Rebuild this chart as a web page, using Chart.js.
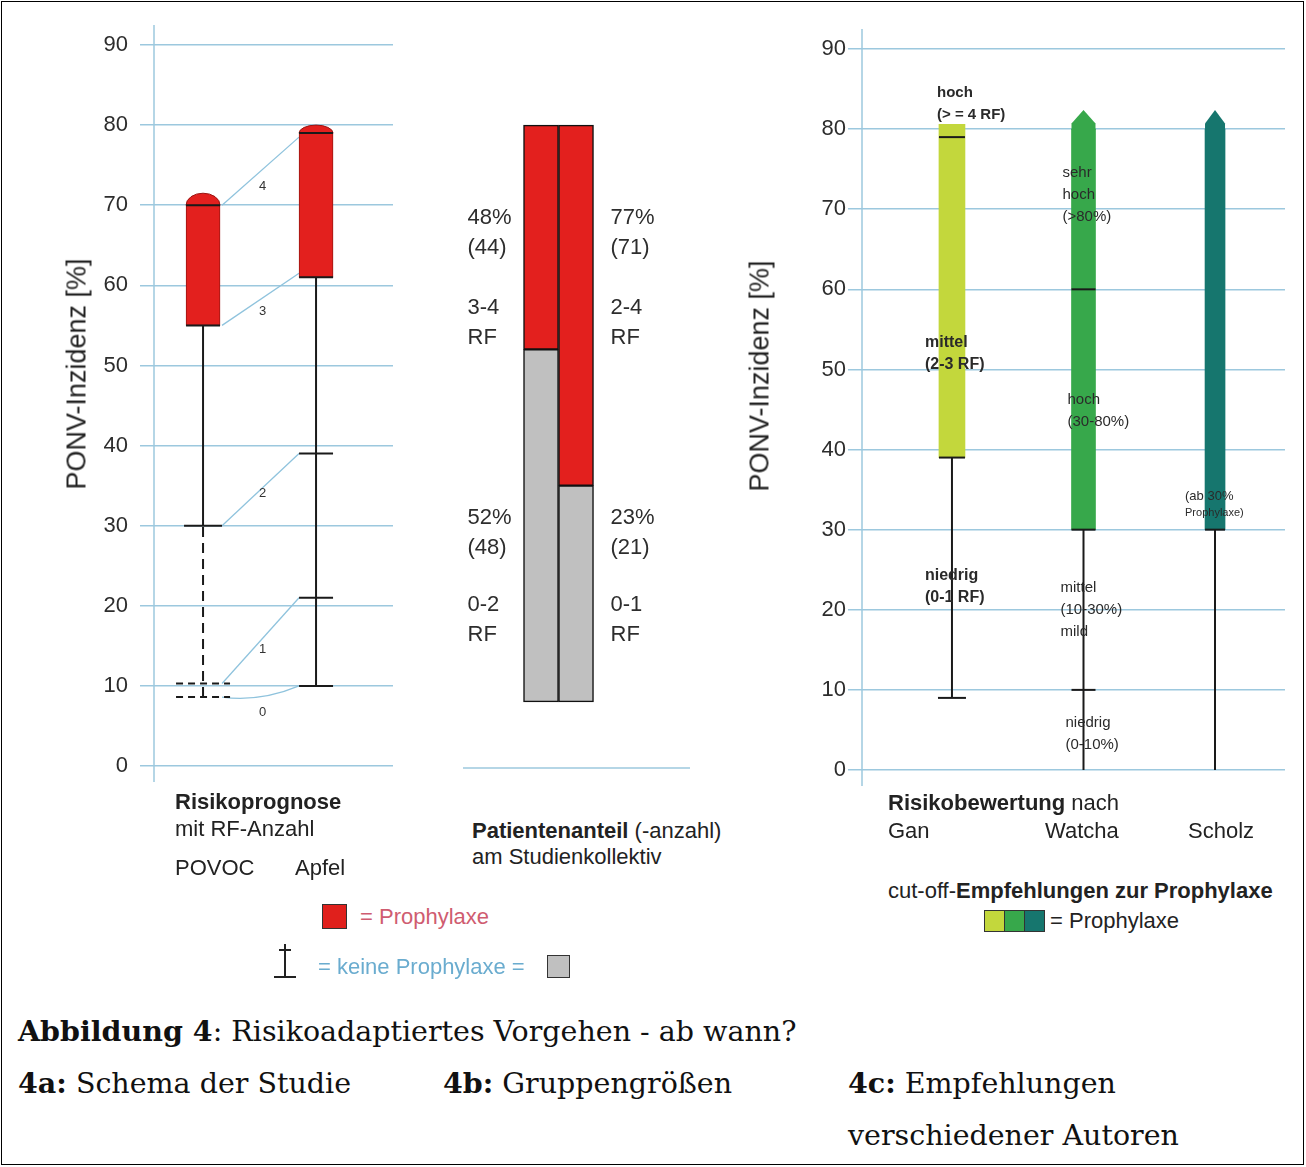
<!DOCTYPE html>
<html lang="de">
<head>
<meta charset="utf-8">
<title>Abbildung 4 – Risikoadaptiertes Vorgehen</title>
<script src="https://cdn.jsdelivr.net/npm/chart.js@4.4.1/dist/chart.umd.min.js"></script>
<style>
  html, body { margin: 0; padding: 0; background: #fff; }
  body { width: 1306px; height: 1167px; position: relative; overflow: hidden;
         font-family: "Liberation Sans", Arial, sans-serif; color: #222; }
  .frame { position: absolute; left: 1px; top: 1px; width: 1303px; height: 1164px;
           border: 1.5px solid #000; box-sizing: border-box; }
  canvas { position: absolute; top: 0; }
  .t { position: absolute; white-space: nowrap; font-size: 22px; line-height: 26px; color: #222; }
  .ytitle { position: absolute; white-space: nowrap; font-size: 27px; color: #222;
            transform: translate(-50%, -50%) rotate(-90deg); }
  .cap { position: absolute; white-space: nowrap; font-family: "DejaVu Serif", serif;
         font-size: 28.5px; line-height: 34px; color: #111; }
  .sw { position: absolute; box-sizing: border-box; border: 1.5px solid #333; }
  .bar { position: absolute; background: #222; }
</style>
</head>
<body>
<div class="frame"></div>

<canvas id="c4a" width="420" height="800" style="left:0"></canvas>
<canvas id="c4b" width="300" height="800" style="left:420px"></canvas>
<canvas id="c4c" width="586" height="800" style="left:720px"></canvas>

<div class="ytitle" style="left:77px; top:374px">PONV-Inzidenz [%]</div>
<div class="ytitle" style="left:760px; top:376px">PONV-Inzidenz [%]</div>

<!-- 4a / 4b axis texts -->
<div class="t" style="left:175px; top:789px"><b>Risikoprognose</b></div>
<div class="t" style="left:175px; top:816px">mit RF-Anzahl</div>
<div class="t" style="left:175px; top:855px">POVOC</div>
<div class="t" style="left:295px; top:855px">Apfel</div>
<div class="t" style="left:472px; top:818px"><b>Patientenanteil</b> (-anzahl)</div>
<div class="t" style="left:472px; top:844px">am Studienkollektiv</div>

<!-- legend left -->
<div class="sw" style="left:322px; top:904px; width:25px; height:25px; background:#e0201c"></div>
<div class="t" style="left:360px; top:904px; color:#cf5c70">= Prophylaxe</div>
<div class="bar" style="left:284px; top:944px; width:2px; height:33px"></div>
<div class="bar" style="left:279px; top:949px; width:12px; height:2px"></div>
<div class="bar" style="left:274px; top:976px; width:22px; height:2px"></div>
<div class="t" style="left:318px; top:954px; color:#6aaccf">= keine Prophylaxe =</div>
<div class="sw" style="left:547px; top:955px; width:23px; height:23px; background:#c0c0c0"></div>

<!-- 4c axis texts -->
<div class="t" style="left:888px; top:790px"><b>Risikobewertung</b> nach</div>
<div class="t" style="left:888px; top:818px">Gan</div>
<div class="t" style="left:1045px; top:818px">Watcha</div>
<div class="t" style="left:1188px; top:818px">Scholz</div>
<div class="t" style="left:888px; top:878px">cut-off-<b>Empfehlungen zur Prophylaxe</b></div>
<div class="sw" style="left:984px; top:910px; width:21px; height:22px; background:#c3d73c"></div>
<div class="sw" style="left:1004px; top:910px; width:21px; height:22px; background:#37a84b"></div>
<div class="sw" style="left:1024px; top:910px; width:21px; height:22px; background:#16766e"></div>
<div class="t" style="left:1050px; top:908px">= Prophylaxe</div>

<!-- caption -->
<div class="cap" style="left:18px; top:1014px"><b>Abbildung 4</b>: Risikoadaptiertes Vorgehen - ab wann?</div>
<div class="cap" style="left:18px; top:1066px"><b>4a:</b> Schema der Studie</div>
<div class="cap" style="left:443px; top:1066px"><b>4b:</b> Gruppengrößen</div>
<div class="cap" style="left:848px; top:1066px"><b>4c:</b> Empfehlungen</div>
<div class="cap" style="left:848px; top:1119px">verschiedener Autoren</div>

<script>
// ---- data ----
const yMin = 0, yMax = 90, yStep = 10;

// 4a: Risikoprognose
const schemes = ['POVOC', 'Apfel'];
const prophRange = [[55, 70], [61, 79]];
const prophDome = [71.5, 80];
const whiskerRange = [[30, 55], [10, 61]];
const whiskerCaps = [[30], [10, 21, 39]];
const dashedRange = [[8.6, 30], null];
const dashedCaps = [[10.3, 8.6], []];
const rfCount = ['4', '3', '2', '1', '0'];
const rfFrom = [70, 55, 30, 10.3, 8.6];
const rfTo = [78.5, 61.5, 39, 21, 10];

// 4b: Patientenanteil
const groupBase = 8;
const groupTop = 80;
const groupSplit = [52, 35];
const shareNone = ['52%', '23%'];
const countNone = ['(48)', '(21)'];
const rfNone = ['0-2', '0-1'];
const shareProph = ['48%', '77%'];
const countProph = ['(44)', '(71)'];
const rfProph = ['3-4', '2-4'];

// 4c: Empfehlungen
const authors = ['Gan', 'Watcha', 'Scholz'];
const cutoff = [39, 30, 30];
const barTop = [80.6, 80, 80];
const arrowTip = [null, 82.4, 82.4];
const levelMarks = [[79], [60], []];
const whiskerLow = [9, 0, 0];
const whiskerMarks = [[9], [10], []];
const ganNotes = [['hoch', '(> = 4 RF)'], ['mittel', '(2-3 RF)'], ['niedrig', '(0-1 RF)']];
const watchaNotes = [['sehr', 'hoch', '(>80%)'], ['hoch', '(30-80%)'], ['mittel', '(10-30%)', 'mild'], ['niedrig', '(0-10%)']];
const scholzNotes = [['(ab 30%', 'Prophylaxe)']];

// ---- shared styling ----
Chart.defaults.font.family = '"Liberation Sans", Arial, sans-serif';
const gridBlue = '#9cc8de';
const red = '#e3201e';

function yAxis(width, pad) {
  return {
    min: yMin, max: yMax,
    ticks: { stepSize: yStep, color: '#2d2d2d', font: { size: 22 }, padding: pad },
    grid: { color: gridBlue, lineWidth: 1.5, tickLength: 14, tickColor: gridBlue },
    border: { display: false },
    afterFit(scale) { scale.width = width; }
  };
}

const axisLine = {
  id: 'axisLine',
  beforeDatasetsDraw(chart) {
    const { ctx, chartArea } = chart;
    ctx.save();
    ctx.strokeStyle = gridBlue;
    ctx.lineWidth = 1.5;
    ctx.beginPath();
    ctx.moveTo(chartArea.left, chartArea.top - 20);
    ctx.lineTo(chartArea.left, chartArea.bottom + 16);
    ctx.stroke();
    ctx.restore();
  }
};

// ---- 4a ----
const rfLabelAt = [72.3, 56.8, 34, 14.5, 6.7];

const rfSteps = {
  id: 'rfSteps',
  beforeDatasetsDraw(chart) {
    const { ctx, scales: { x, y } } = chart;
    const x0 = x.getPixelForValue(0) + 19, x1 = x.getPixelForValue(1) - 17;
    ctx.save();
    ctx.strokeStyle = '#8fc3dd';
    ctx.lineWidth = 1.3;
    ctx.font = '13px "Liberation Sans"';
    ctx.fillStyle = '#333';
    ctx.textAlign = 'center';
    ctx.textBaseline = 'middle';
    rfCount.forEach((n, i) => {
      const ya = y.getPixelForValue(rfFrom[i]), yb = y.getPixelForValue(rfTo[i]);
      ctx.beginPath();
      ctx.moveTo(x0, ya);
      if (i === rfCount.length - 1) ctx.quadraticCurveTo((x0 + x1) / 2, ya + 5, x1, yb);
      else ctx.lineTo(x1, yb);
      ctx.stroke();
      ctx.fillText(n, (x0 + x1) / 2 + 2, y.getPixelForValue(rfLabelAt[i]));
    });
    // rounded tops of the prophylaxis boxes
    prophRange.forEach((r, i) => {
      const cx = x.getPixelForValue(i);
      const yt = y.getPixelForValue(r[1]), yd = y.getPixelForValue(prophDome[i]);
      ctx.beginPath();
      ctx.ellipse(cx, yt, 17, yt - yd, 0, Math.PI, 2 * Math.PI);
      ctx.closePath();
      ctx.fillStyle = red;
      ctx.fill();
      ctx.strokeStyle = '#9a1512';
      ctx.lineWidth = 1;
      ctx.stroke();
    });
    ctx.restore();
  },
  afterDatasetsDraw(chart) {
    const { ctx, scales: { x, y } } = chart;
    ctx.save();
    ctx.strokeStyle = '#1a1a1a';
    ctx.lineWidth = 2;
    ctx.setLineDash([7, 5]);
    dashedCaps.forEach((caps, i) => {
      const cx = x.getPixelForValue(i);
      caps.forEach(v => {
        const yy = y.getPixelForValue(v);
        ctx.beginPath();
        ctx.moveTo(cx - 27, yy);
        ctx.lineTo(cx + 27, yy);
        ctx.stroke();
      });
    });
    ctx.restore();
  }
};

new Chart(document.getElementById('c4a'), {
  type: 'bar',
  data: {
    datasets: [
      {
        type: 'bar', label: 'Prophylaxe',
        data: schemes.map((s, i) => ({ x: i, y: prophRange[i] })),
        backgroundColor: red, borderColor: '#9a1512', borderWidth: 1,
        borderSkipped: false, barThickness: 34, grouped: false, order: 3
      },
      ...schemes.map((s, i) => ({
        type: 'line', label: s + ' keine Prophylaxe',
        data: whiskerRange[i].map(v => ({ x: i, y: v })),
        borderColor: '#1a1a1a', borderWidth: 2, pointRadius: 0, order: 2
      })),
      ...schemes.filter((s, i) => dashedRange[i]).map((s, i) => ({
        type: 'line', label: s + ' gestrichelt',
        data: dashedRange[i].map(v => ({ x: i, y: v })),
        borderColor: '#1a1a1a', borderWidth: 2, borderDash: [10, 6], pointRadius: 0, order: 2
      })),
      {
        type: 'scatter', label: 'Grenzen',
        data: schemes.flatMap((s, i) => [
          ...whiskerCaps[i].map(v => ({ x: i, y: v, r: i === 0 ? 19 : 17 })),
          ...prophRange[i].map(v => ({ x: i, y: v, r: 17 }))
        ]),
        pointStyle: 'line',
        pointRadius: c => c.raw.r,
        pointBorderColor: '#1a1a1a', pointBorderWidth: 2, order: 1
      }
    ]
  },
  options: {
    responsive: false, animation: false, events: [],
    layout: { padding: { top: 45, bottom: 34, left: 0, right: 27 } },
    plugins: { legend: { display: false }, tooltip: { enabled: false } },
    scales: {
      x: { type: 'linear', display: false, offset: false, min: -0.434, max: 1.681 },
      y: yAxis(154, 12)
    }
  },
  plugins: [axisLine, rfSteps]
});

// ---- 4b ----
const groupLabels = {
  id: 'groupLabels',
  afterDatasetsDraw(chart) {
    const { ctx, chartArea, scales: { x, y } } = chart;
    ctx.save();
    ctx.strokeStyle = gridBlue;
    ctx.lineWidth = 1.5;
    ctx.beginPath();
    ctx.moveTo(chartArea.left, y.getPixelForValue(0) + 2);
    ctx.lineTo(chartArea.right, y.getPixelForValue(0) + 2);
    ctx.stroke();
    ctx.font = '22px "Liberation Sans"';
    ctx.fillStyle = '#2d2d2d';
    ctx.textBaseline = 'middle';
    ctx.textAlign = 'left';
    const sides = [x.getPixelForValue(0) - 17.5 - 56, x.getPixelForValue(1) + 17.5 + 17];
    const lh = 30;
    sides.forEach((lx, i) => {
      [[shareProph[i], countProph[i], 68.4], [rfProph[i], 'RF', 57.2],
       [shareNone[i], countNone[i], 31], [rfNone[i], 'RF', 20.1]].forEach(([a, b, at]) => {
        const yy = y.getPixelForValue(at);
        ctx.fillText(a, lx, yy);
        ctx.fillText(b, lx, yy + lh);
      });
    });
    ctx.restore();
  }
};

new Chart(document.getElementById('c4b'), {
  type: 'bar',
  data: {
    datasets: [
      {
        label: 'keine Prophylaxe',
        data: groupSplit.map((v, i) => ({ x: i, y: [groupBase, v] })),
        backgroundColor: '#c0c0c0', borderColor: '#111', borderWidth: 1.5,
        borderSkipped: false, barThickness: 35, grouped: false
      },
      {
        label: 'Prophylaxe',
        data: groupSplit.map((v, i) => ({ x: i, y: [v, groupTop] })),
        backgroundColor: red, borderColor: '#111', borderWidth: 1.5,
        borderSkipped: false, barThickness: 35, grouped: false
      }
    ]
  },
  options: {
    responsive: false, animation: false, events: [],
    layout: { padding: { top: 45, bottom: 34, left: 43, right: 30 } },
    plugins: { legend: { display: false }, tooltip: { enabled: false } },
    scales: {
      x: { type: 'linear', display: false, offset: false, min: -2.229, max: 4.257 },
      y: { display: false, min: yMin, max: yMax }
    }
  },
  plugins: [groupLabels]
});

// ---- 4c ----
const authorColors = ['#c3d73c', '#37a84b', '#16766e'];
const authorWidth = [26, 24, 20];
const notePlacement = [
  { notes: ganNotes, at: [84.5, 53.3, 24.3], dx: [-15, -27, -27], bold: true, size: [15, 16, 16] },
  { notes: watchaNotes, at: [74.5, 46.2, 22.7, 5.9], dx: [-21, -16, -23, -18], bold: false, size: [15, 15, 15, 15] },
  { notes: scholzNotes, at: [34.1], dx: [-30], bold: false, size: [13] }
];

const arrowsAndNotes = {
  id: 'arrowsAndNotes',
  afterDatasetsDraw(chart) {
    const { ctx, scales: { x, y } } = chart;
    ctx.save();
    arrowTip.forEach((tip, i) => {
      if (tip == null) return;
      const cx = x.getPixelForValue(i), hw = authorWidth[i] / 2;
      const yb = y.getPixelForValue(barTop[i]) + 1;
      const ys = y.getPixelForValue(barTop[i] + 0.7);
      const yt = y.getPixelForValue(tip);
      ctx.beginPath();
      ctx.moveTo(cx - hw, yb);
      ctx.lineTo(cx - hw, ys);
      ctx.lineTo(cx, yt);
      ctx.lineTo(cx + hw, ys);
      ctx.lineTo(cx + hw, yb);
      ctx.closePath();
      ctx.fillStyle = authorColors[i];
      ctx.fill();
    });
    ctx.fillStyle = '#2a2a2a';
    ctx.textAlign = 'left';
    ctx.textBaseline = 'middle';
    notePlacement.forEach((p, i) => {
      const cx = x.getPixelForValue(i);
      p.notes.forEach((lines, k) => {
        const y0 = y.getPixelForValue(p.at[k]);
        lines.forEach((t, j) => {
          const sz = i === 2 && j === 1 ? 11 : p.size[k];
          ctx.font = (p.bold ? 'bold ' : '') + sz + 'px "Liberation Sans"';
          ctx.fillText(t, cx + p.dx[k], y0 + j * (i === 2 ? 16 : 22));
        });
      });
    });
    ctx.restore();
  }
};

new Chart(document.getElementById('c4c'), {
  type: 'bar',
  data: {
    datasets: [
      ...authors.map((a, i) => ({
        type: 'bar', label: a,
        data: [{ x: i, y: [cutoff[i], barTop[i]] }],
        backgroundColor: authorColors[i], borderWidth: 0,
        barThickness: authorWidth[i], grouped: false, order: 3
      })),
      ...authors.map((a, i) => ({
        type: 'line', label: a + ' keine Prophylaxe',
        data: [whiskerLow[i], cutoff[i]].map(v => ({ x: i, y: v })),
        borderColor: '#1a1a1a', borderWidth: 2, pointRadius: 0, order: 2
      })),
      {
        type: 'scatter', label: 'Grenzen',
        data: authors.flatMap((a, i) => [
          { x: i, y: cutoff[i], r: authorWidth[i] / 2 },
          ...levelMarks[i].map(v => ({ x: i, y: v, r: authorWidth[i] / 2 })),
          ...whiskerMarks[i].map(v => ({ x: i, y: v, r: i === 0 ? 14 : 12 }))
        ]),
        pointStyle: 'line',
        pointRadius: c => c.raw.r,
        pointBorderColor: '#1a1a1a', pointBorderWidth: 2, order: 1
      }
    ]
  },
  options: {
    responsive: false, animation: false, events: [],
    layout: { padding: { top: 49, bottom: 30, left: 0, right: 21 } },
    plugins: { legend: { display: false }, tooltip: { enabled: false } },
    scales: {
      x: { type: 'linear', display: false, offset: false, min: -0.684, max: 2.532 },
      y: yAxis(142, 2)
    }
  },
  plugins: [axisLine, arrowsAndNotes]
});
</script>
</body>
</html>
